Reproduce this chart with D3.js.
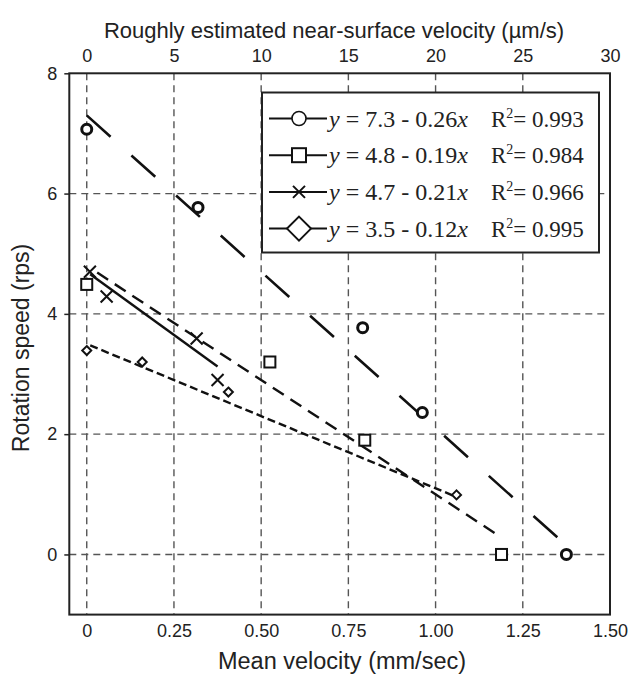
<!DOCTYPE html>
<html lang="en">
<head>
    <meta charset="UTF-8">
    <title>Rotation speed vs mean velocity</title>
    <style>
        body { margin: 0; background: #fff; }
        svg { display: block; }
        .tick-label { font-family: "Liberation Sans", Arial, sans-serif; font-size: 18px; fill: #222; }
        .axis-title { font-family: "Liberation Sans", Arial, sans-serif; font-size: 22px; fill: #222; }
        .legend-text { font-family: "Liberation Serif", "Times New Roman", serif; font-size: 23px; fill: #222; }
    </style>
</head>
<body>
    <div id="chart"></div>

    <script src="https://d3js.org/d3.v7.min.js"></script>
    <script>
        // mean velocity (mm/sec) and rotation speed (rps)
        const circleX  = [0, 0.319, 0.791, 0.962, 1.375];
        const circleY  = [7.07, 5.77, 3.77, 2.36, 0];
        const squareX  = [0, 0.525, 0.797, 1.189];
        const squareY  = [4.49, 3.2, 1.9, 0];
        const crossX   = [0.009, 0.057, 0.315, 0.375];
        const crossY   = [4.70, 4.29, 3.59, 2.90];
        const diamondX = [0, 0.159, 0.406, 1.06];
        const diamondY = [3.39, 3.2, 2.70, 0.99];

        // fitted lines from the legend (x in µm/s), and the x span drawn (mm/sec)
        const seriesNames = ["circle", "square", "cross", "diamond"];
        const intercepts  = [7.3, 4.8, 4.7, 3.5];
        const slopes      = [0.26, 0.19, 0.21, 0.12];
        const rSquared    = ["0.993", "0.984", "0.966", "0.995"];
        const fitStart    = [0, 0.03, 0.01, 0.01];
        const fitEnd      = [1.35, 1.175, 0.375, 1.058];
        const umPerMm = 20;

        const xTicks = [0, 0.25, 0.5, 0.75, 1.0, 1.25, 1.5];
        const xTickLabels = ["0", "0.25", "0.50", "0.75", "1.00", "1.25", "1.50"];
        const topTicks = [0, 5, 10, 15, 20, 25, 30];
        const yTicks = [0, 2, 4, 6, 8];

        const W = 633, H = 674;
        const frame = { left: 69.3, right: 610, top: 73.3, bottom: 614.6 };

        const svg = d3.select("#chart").append("svg")
            .attr("width", W)
            .attr("height", H);

        const x = d3.scaleLinear().domain([-0.05, 1.5]).range([frame.left, frame.right]);
        const xTop = d3.scaleLinear().domain([-0.05 * umPerMm, 1.5 * umPerMm]).range([frame.left, frame.right]);
        const y = d3.scaleLinear().domain([-1, 8]).range([frame.bottom, frame.top]);

        // gridlines
        const grid = svg.append("g")
            .attr("stroke", "#555")
            .attr("stroke-width", 1.4)
            .attr("stroke-dasharray", "7,5");
        grid.selectAll(".vgrid")
            .data(xTicks.filter(d => d < 1.5))
            .enter().append("line")
            .attr("x1", d => x(d)).attr("x2", d => x(d))
            .attr("y1", frame.top).attr("y2", frame.bottom);
        grid.selectAll(".hgrid")
            .data(yTicks.filter(d => d < 8))
            .enter().append("line")
            .attr("x1", frame.left).attr("x2", frame.right)
            .attr("y1", d => y(d)).attr("y2", d => y(d));

        // axes
        const bottomAxis = svg.append("g")
            .attr("transform", `translate(0,${frame.bottom})`)
            .call(d3.axisBottom(x).tickValues(xTicks)
                .tickFormat((d, i) => xTickLabels[i]).tickSize(0).tickPadding(10));
        const topAxis = svg.append("g")
            .attr("transform", `translate(0,${frame.top})`)
            .call(d3.axisTop(xTop).tickValues(topTicks).tickSize(0).tickPadding(11));
        const leftAxis = svg.append("g")
            .attr("transform", `translate(${frame.left},0)`)
            .call(d3.axisLeft(y).tickValues(yTicks).tickSizeInner(5).tickSizeOuter(0).tickPadding(7));

        [bottomAxis, topAxis, leftAxis].forEach(a => {
            a.select(".domain").remove();
            a.selectAll("text").attr("class", "tick-label").attr("fill", null);
            a.selectAll("line").attr("stroke", "#222").attr("stroke-width", 1.5);
        });

        // frame
        svg.append("rect")
            .attr("x", frame.left).attr("y", frame.top)
            .attr("width", frame.right - frame.left)
            .attr("height", frame.bottom - frame.top)
            .attr("fill", "none")
            .attr("stroke", "#222")
            .attr("stroke-width", 2);

        // axis titles
        svg.append("text")
            .attr("class", "axis-title")
            .attr("x", 334).attr("y", 38)
            .attr("text-anchor", "middle")
            .text("Roughly estimated near-surface velocity (µm/s)");
        svg.append("text")
            .attr("class", "axis-title")
            .attr("x", 342).attr("y", 669)
            .attr("text-anchor", "middle")
            .style("font-size", "23.5px")
            .text("Mean velocity (mm/sec)");
        svg.append("text")
            .attr("class", "axis-title")
            .attr("transform", `translate(29,${(frame.top + frame.bottom) / 2 + 4}) rotate(-90)`)
            .attr("text-anchor", "middle")
            .style("font-size", "23px")
            .text("Rotation speed (rps)");

        // fit lines
        const dashes = ["32,28", "13,8", null, "8,4"];
        const fitLine = (i, xv) => intercepts[i] - slopes[i] * umPerMm * xv;
        seriesNames.forEach((name, i) => {
            svg.append("line")
                .attr("x1", x(fitStart[i])).attr("y1", y(fitLine(i, fitStart[i])))
                .attr("x2", x(fitEnd[i])).attr("y2", y(fitLine(i, fitEnd[i])))
                .attr("stroke", "#111")
                .attr("stroke-width", i === 0 ? 2.6 : 2.4)
                .attr("stroke-dasharray", dashes[i]);
        });

        // marker drawing
        function drawMarker(g, kind, cx, cy, size, sw) {
            const h = size / 2;
            if (kind === "circle") {
                g.append("circle").attr("cx", cx).attr("cy", cy).attr("r", h)
                    .attr("fill", "#fff").attr("stroke", "#111").attr("stroke-width", sw);
            } else if (kind === "square") {
                g.append("rect").attr("x", cx - h).attr("y", cy - h)
                    .attr("width", size).attr("height", size)
                    .attr("fill", "#fff").attr("stroke", "#111").attr("stroke-width", sw);
            } else if (kind === "cross") {
                g.append("path")
                    .attr("d", `M${cx - h},${cy - h}L${cx + h},${cy + h}M${cx - h},${cy + h}L${cx + h},${cy - h}`)
                    .attr("stroke", "#111").attr("stroke-width", sw).attr("fill", "none");
            } else {
                g.append("path")
                    .attr("d", `M${cx},${cy - h}L${cx + h},${cy}L${cx},${cy + h}L${cx - h},${cy}Z`)
                    .attr("fill", "#fff").attr("stroke", "#111").attr("stroke-width", sw);
            }
        }

        const points = svg.append("g");
        const seriesData = [
            [circleX, circleY, 10, 3],
            [squareX, squareY, 11, 2],
            [crossX, crossY, 12, 2],
            [diamondX, diamondY, 9, 2]
        ];
        seriesData.forEach(([xs, ys, size, sw], i) => {
            xs.forEach((xv, j) => drawMarker(points, seriesNames[i], x(xv), y(ys[j]), size, sw));
        });

        // legend
        const legend = svg.append("g");
        legend.append("rect")
            .attr("x", 262).attr("y", 92.5)
            .attr("width", 337).attr("height", 160)
            .attr("fill", "#fff")
            .attr("stroke", "#222")
            .attr("stroke-width", 2);

        const legendSizes = [14, 14, 12, 24];
        seriesNames.forEach((name, i) => {
            const rowY = 118.5 + i * 36.7;
            legend.append("line")
                .attr("x1", 269).attr("x2", 327)
                .attr("y1", rowY).attr("y2", rowY)
                .attr("stroke", "#111").attr("stroke-width", 2);
            drawMarker(legend, name, 299, rowY, legendSizes[i], i === 0 ? 1.6 : 2);

            const eq = legend.append("text")
                .attr("class", "legend-text")
                .attr("x", 329).attr("y", rowY + 8)
                .style("font-size", "24px");
            eq.append("tspan").attr("font-style", "italic").text("y");
            eq.append("tspan").text(` = ${intercepts[i]} - ${slopes[i]}`);
            eq.append("tspan").attr("font-style", "italic").text("x");

            const r2 = legend.append("text")
                .attr("class", "legend-text")
                .attr("x", 491).attr("y", rowY + 8);
            r2.append("tspan").text("R");
            r2.append("tspan").attr("font-size", "14px").attr("dy", -9).text("2");
            r2.append("tspan").attr("dy", 9).text("= " + rSquared[i]);
        });
    </script>
</body>
</html>
